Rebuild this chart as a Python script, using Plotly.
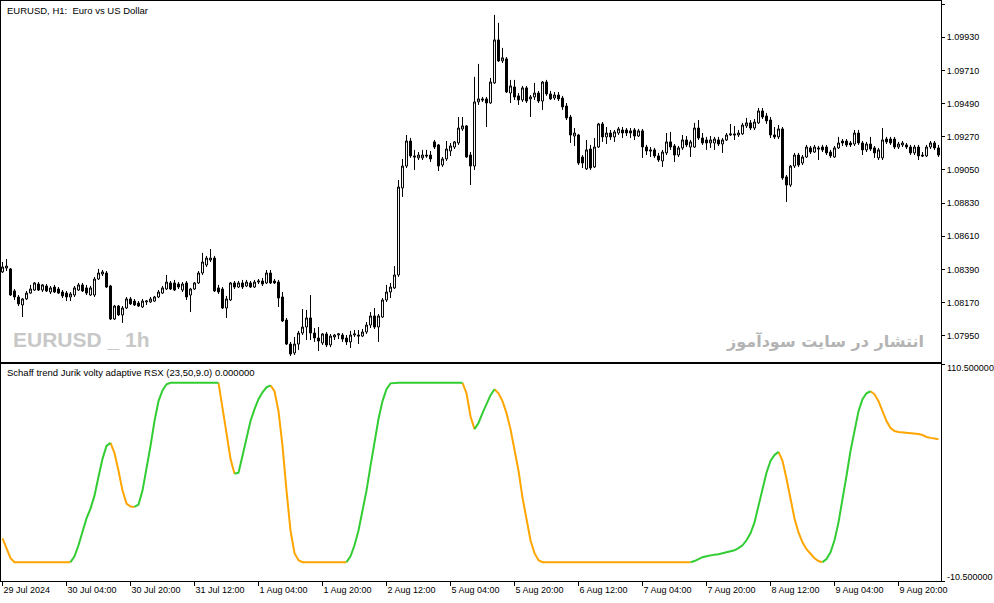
import plotly.graph_objects as go

# ---------------- data ----------------
bar_index = list(range(235))

opens = [
    1.08374, 1.08400, 1.08394, 1.08248, 1.08208, 1.08155, 1.08195, 1.08234, 1.08254, 1.08294,
    1.08254, 1.08281, 1.08241, 1.08274, 1.08261, 1.08241, 1.08234, 1.08208, 1.08221, 1.08254,
    1.08288, 1.08268, 1.08221, 1.08221, 1.08327, 1.08360, 1.08367, 1.08281, 1.08062, 1.08148,
    1.08089, 1.08135, 1.08195, 1.08181, 1.08168, 1.08142, 1.08175, 1.08175, 1.08181, 1.08208,
    1.08234, 1.08261, 1.08301, 1.08301, 1.08294, 1.08254, 1.08301, 1.08221, 1.08261, 1.08301,
    1.08367, 1.08420, 1.08453, 1.08466, 1.08268, 1.08261, 1.08135, 1.08188, 1.08301, 1.08274,
    1.08301, 1.08281, 1.08301, 1.08274, 1.08307, 1.08314, 1.08301, 1.08367, 1.08314, 1.08307,
    1.08208, 1.08055, 1.07896, 1.07837, 1.07896, 1.07969, 1.08009, 1.08069, 1.07969, 1.07936,
    1.07903, 1.07963, 1.07890, 1.07943, 1.07956, 1.07956, 1.07936, 1.07910, 1.07956, 1.07956,
    1.07949, 1.07976, 1.08022, 1.08082, 1.08009, 1.08075, 1.08188, 1.08241, 1.08268, 1.08354,
    1.08931, 1.09076, 1.09242, 1.09143, 1.09130, 1.09130, 1.09149, 1.09149, 1.09236, 1.09216,
    1.09083, 1.09123, 1.09176, 1.09202, 1.09229, 1.09322, 1.09342, 1.09149, 1.09076, 1.09501,
    1.09521, 1.09521, 1.09494, 1.09627, 1.09912, 1.09773, 1.09786, 1.09560, 1.09600, 1.09541,
    1.09514, 1.09594, 1.09521, 1.09534, 1.09560, 1.09507, 1.09633, 1.09554, 1.09527, 1.09547,
    1.09527, 1.09474, 1.09401, 1.09275, 1.09282, 1.09136, 1.09057, 1.09189, 1.09070, 1.09202,
    1.09355, 1.09269, 1.09295, 1.09269, 1.09295, 1.09315, 1.09315, 1.09309, 1.09315, 1.09275,
    1.09309, 1.09202, 1.09183, 1.09183, 1.09143, 1.09110, 1.09163, 1.09236, 1.09209, 1.09149,
    1.09196, 1.09249, 1.09202, 1.09202, 1.09328, 1.09262, 1.09249, 1.09229, 1.09229, 1.09249,
    1.09222, 1.09249, 1.09282, 1.09289, 1.09282, 1.09289, 1.09342, 1.09362, 1.09328, 1.09362,
    1.09441, 1.09408, 1.09381, 1.09282, 1.09269, 1.09322, 1.09004, 1.08950, 1.09076, 1.09149,
    1.09096, 1.09136, 1.09196, 1.09169, 1.09196, 1.09202, 1.09202, 1.09169, 1.09136, 1.09196,
    1.09242, 1.09242, 1.09229, 1.09222, 1.09295, 1.09229, 1.09183, 1.09222, 1.09196, 1.09130,
    1.09130, 1.09255, 1.09255, 1.09255, 1.09202, 1.09216, 1.09216, 1.09202, 1.09163, 1.09202,
    1.09149, 1.09143, 1.09202, 1.09229, 1.09196,
]

highs = [
    1.08440, 1.08460, 1.08400, 1.08261, 1.08221, 1.08201, 1.08248, 1.08288, 1.08307, 1.08307,
    1.08294, 1.08294, 1.08281, 1.08288, 1.08274, 1.08254, 1.08248, 1.08241, 1.08281, 1.08301,
    1.08301, 1.08288, 1.08281, 1.08341, 1.08394, 1.08387, 1.08380, 1.08288, 1.08155, 1.08155,
    1.08148, 1.08208, 1.08208, 1.08195, 1.08181, 1.08195, 1.08188, 1.08208, 1.08215, 1.08254,
    1.08281, 1.08354, 1.08314, 1.08321, 1.08307, 1.08307, 1.08314, 1.08268, 1.08307, 1.08380,
    1.08500, 1.08480, 1.08526, 1.08480, 1.08288, 1.08274, 1.08215, 1.08307, 1.08314, 1.08314,
    1.08321, 1.08321, 1.08314, 1.08321, 1.08327, 1.08334, 1.08387, 1.08387, 1.08327, 1.08321,
    1.08241, 1.08069, 1.07910, 1.07943, 1.07983, 1.08128, 1.08122, 1.08221, 1.08002, 1.08009,
    1.07969, 1.07976, 1.07963, 1.07963, 1.07969, 1.07969, 1.07956, 1.07983, 1.07989, 1.07989,
    1.07996, 1.08042, 1.08108, 1.08135, 1.08095, 1.08201, 1.08288, 1.08301, 1.08413, 1.08984,
    1.09123, 1.09282, 1.09262, 1.09183, 1.09169, 1.09183, 1.09183, 1.09176, 1.09249, 1.09222,
    1.09136, 1.09242, 1.09229, 1.09242, 1.09401, 1.09401, 1.09348, 1.09169, 1.09667, 1.09753,
    1.09534, 1.09534, 1.09660, 1.10078, 1.10025, 1.09859, 1.09799, 1.09647, 1.09647, 1.09560,
    1.09607, 1.09607, 1.09547, 1.09627, 1.09574, 1.09640, 1.09647, 1.09574, 1.09567, 1.09567,
    1.09541, 1.09494, 1.09415, 1.09328, 1.09289, 1.09149, 1.09249, 1.09216, 1.09262, 1.09362,
    1.09368, 1.09335, 1.09315, 1.09315, 1.09335, 1.09335, 1.09328, 1.09328, 1.09328, 1.09322,
    1.09322, 1.09216, 1.09202, 1.09196, 1.09163, 1.09183, 1.09295, 1.09302, 1.09222, 1.09209,
    1.09282, 1.09275, 1.09249, 1.09362, 1.09381, 1.09295, 1.09269, 1.09275, 1.09269, 1.09269,
    1.09262, 1.09295, 1.09355, 1.09342, 1.09315, 1.09362, 1.09395, 1.09381, 1.09388, 1.09461,
    1.09461, 1.09428, 1.09401, 1.09335, 1.09348, 1.09335, 1.09017, 1.09083, 1.09163, 1.09163,
    1.09149, 1.09216, 1.09209, 1.09216, 1.09209, 1.09216, 1.09216, 1.09183, 1.09209, 1.09269,
    1.09255, 1.09255, 1.09242, 1.09315, 1.09315, 1.09242, 1.09236, 1.09269, 1.09209, 1.09196,
    1.09328, 1.09269, 1.09269, 1.09269, 1.09236, 1.09242, 1.09229, 1.09216, 1.09216, 1.09216,
    1.09169, 1.09216, 1.09242, 1.09242, 1.09216,
]

lows = [
    1.08367, 1.08380, 1.08215, 1.08188, 1.08148, 1.08075, 1.08188, 1.08228, 1.08248, 1.08248,
    1.08241, 1.08241, 1.08228, 1.08234, 1.08228, 1.08201, 1.08181, 1.08181, 1.08208, 1.08248,
    1.08241, 1.08221, 1.08215, 1.08208, 1.08321, 1.08347, 1.08268, 1.08055, 1.08055, 1.08082,
    1.08036, 1.08128, 1.08155, 1.08148, 1.08142, 1.08135, 1.08155, 1.08168, 1.08175, 1.08201,
    1.08228, 1.08254, 1.08254, 1.08248, 1.08261, 1.08241, 1.08188, 1.08108, 1.08254, 1.08294,
    1.08354, 1.08407, 1.08440, 1.08241, 1.08228, 1.08128, 1.08069, 1.08181, 1.08261, 1.08268,
    1.08261, 1.08274, 1.08268, 1.08268, 1.08294, 1.08281, 1.08294, 1.08294, 1.08294, 1.08142,
    1.08042, 1.07890, 1.07817, 1.07823, 1.07857, 1.07956, 1.07923, 1.07923, 1.07910, 1.07850,
    1.07890, 1.07876, 1.07876, 1.07923, 1.07929, 1.07910, 1.07890, 1.07870, 1.07943, 1.07896,
    1.07943, 1.07963, 1.08002, 1.07996, 1.07910, 1.08069, 1.08175, 1.08201, 1.08261, 1.08341,
    1.08871, 1.09063, 1.09130, 1.09050, 1.09116, 1.09116, 1.09130, 1.09103, 1.09189, 1.09043,
    1.09070, 1.09110, 1.09143, 1.09189, 1.09216, 1.09309, 1.09130, 1.08950, 1.09050, 1.09481,
    1.09501, 1.09335, 1.09488, 1.09620, 1.09766, 1.09759, 1.09560, 1.09494, 1.09514, 1.09481,
    1.09501, 1.09494, 1.09401, 1.09514, 1.09494, 1.09448, 1.09541, 1.09514, 1.09514, 1.09507,
    1.09448, 1.09381, 1.09229, 1.09209, 1.09083, 1.09063, 1.09050, 1.09050, 1.09063, 1.09196,
    1.09236, 1.09222, 1.09249, 1.09236, 1.09282, 1.09262, 1.09275, 1.09262, 1.09249, 1.09269,
    1.09130, 1.09149, 1.09136, 1.09130, 1.09103, 1.09070, 1.09149, 1.09183, 1.09103, 1.09136,
    1.09183, 1.09202, 1.09136, 1.09196, 1.09249, 1.09216, 1.09183, 1.09196, 1.09183, 1.09209,
    1.09163, 1.09242, 1.09275, 1.09249, 1.09269, 1.09282, 1.09328, 1.09315, 1.09315, 1.09355,
    1.09388, 1.09355, 1.09262, 1.09255, 1.09255, 1.08984, 1.08838, 1.08937, 1.09063, 1.09070,
    1.09083, 1.09130, 1.09156, 1.09163, 1.09116, 1.09169, 1.09149, 1.09130, 1.09130, 1.09189,
    1.09209, 1.09202, 1.09202, 1.09209, 1.09216, 1.09149, 1.09169, 1.09176, 1.09130, 1.09116,
    1.09116, 1.09222, 1.09216, 1.09189, 1.09189, 1.09202, 1.09189, 1.09149, 1.09149, 1.09116,
    1.09136, 1.09136, 1.09189, 1.09183, 1.09136,
]

closes = [
    1.08407, 1.08413, 1.08221, 1.08208, 1.08162, 1.08195, 1.08234, 1.08261, 1.08301, 1.08254,
    1.08288, 1.08248, 1.08268, 1.08241, 1.08234, 1.08215, 1.08208, 1.08228, 1.08268, 1.08288,
    1.08248, 1.08234, 1.08268, 1.08327, 1.08367, 1.08374, 1.08274, 1.08062, 1.08148, 1.08089,
    1.08135, 1.08195, 1.08162, 1.08155, 1.08148, 1.08181, 1.08181, 1.08195, 1.08208, 1.08241,
    1.08268, 1.08307, 1.08261, 1.08254, 1.08274, 1.08294, 1.08208, 1.08261, 1.08301, 1.08367,
    1.08440, 1.08466, 1.08466, 1.08248, 1.08241, 1.08135, 1.08195, 1.08301, 1.08274, 1.08301,
    1.08274, 1.08307, 1.08274, 1.08307, 1.08314, 1.08294, 1.08367, 1.08301, 1.08301, 1.08201,
    1.08049, 1.07896, 1.07830, 1.07896, 1.07969, 1.08009, 1.08069, 1.07969, 1.07936, 1.07916,
    1.07963, 1.07890, 1.07949, 1.07956, 1.07963, 1.07929, 1.07910, 1.07956, 1.07963, 1.07949,
    1.07976, 1.08022, 1.08082, 1.08009, 1.08082, 1.08188, 1.08241, 1.08274, 1.08354, 1.08937,
    1.09076, 1.09242, 1.09143, 1.09136, 1.09149, 1.09149, 1.09143, 1.09123, 1.09202, 1.09076,
    1.09123, 1.09189, 1.09209, 1.09236, 1.09328, 1.09342, 1.09136, 1.09076, 1.09501, 1.09521,
    1.09514, 1.09494, 1.09633, 1.09912, 1.09773, 1.09793, 1.09567, 1.09607, 1.09534, 1.09514,
    1.09594, 1.09507, 1.09534, 1.09560, 1.09507, 1.09633, 1.09554, 1.09521, 1.09547, 1.09521,
    1.09468, 1.09395, 1.09282, 1.09295, 1.09096, 1.09096, 1.09183, 1.09063, 1.09202, 1.09355,
    1.09269, 1.09295, 1.09269, 1.09302, 1.09322, 1.09295, 1.09295, 1.09295, 1.09275, 1.09309,
    1.09202, 1.09176, 1.09176, 1.09143, 1.09116, 1.09169, 1.09236, 1.09202, 1.09149, 1.09196,
    1.09249, 1.09216, 1.09236, 1.09328, 1.09262, 1.09229, 1.09229, 1.09249, 1.09255, 1.09222,
    1.09249, 1.09282, 1.09289, 1.09282, 1.09295, 1.09348, 1.09362, 1.09328, 1.09368, 1.09441,
    1.09401, 1.09375, 1.09282, 1.09269, 1.09322, 1.08997, 1.08950, 1.09076, 1.09149, 1.09083,
    1.09136, 1.09202, 1.09169, 1.09202, 1.09189, 1.09183, 1.09163, 1.09143, 1.09196, 1.09229,
    1.09229, 1.09216, 1.09216, 1.09295, 1.09229, 1.09183, 1.09222, 1.09189, 1.09163, 1.09183,
    1.09249, 1.09236, 1.09229, 1.09202, 1.09222, 1.09229, 1.09202, 1.09163, 1.09202, 1.09143,
    1.09143, 1.09202, 1.09229, 1.09196, 1.09149,
]

stc_values = [
    13.3, 7.8, 2.2, 0, 0, 0, 0, 0, 0, 0,
    0, 0, 0, 0, 0, 0, 0, 0, 3.3, 9.4,
    17.7, 24.4, 29.9, 37.1, 47.6, 57.6, 64.8, 66.5, 60.9, 51.0,
    39.9, 32.7, 31.0, 30.8, 32.1, 39.9, 52.0, 64.8, 78.7, 89.8,
    95.8, 99.2, 100, 100, 100, 100, 100, 100, 100, 100,
    100, 100, 100, 100, 100, 87.0, 72.0, 57.6, 49.3, 49.9,
    59.3, 69.3, 78.7, 85.3, 90.9, 94.7, 97.5, 98.6, 95.3, 84.2,
    64.8, 39.9, 17.7, 5.0, 1.1, 0, 0, 0, 0, 0,
    0, 0, 0, 0, 0, 0, 0, 3.3, 9.4, 17.7,
    28.8, 39.9, 53.7, 67.6, 79.8, 89.8, 96.4, 99.7, 100, 100,
    100, 100, 100, 100, 100, 100, 100, 100, 100, 100,
    100, 100, 100, 100, 100, 100, 94.2, 81.4, 74.2, 77.6,
    83.1, 88.6, 93.1, 96.4, 94.2, 89.8, 83.1, 74.2, 63.2, 51.0,
    36.0, 23.3, 12.2, 5.0, 1.1, 0, 0, 0, 0, 0,
    0, 0, 0, 0, 0, 0, 0, 0, 0, 0,
    0, 0, 0, 0, 0, 0, 0, 0, 0, 0,
    0, 0, 0, 0, 0, 0, 0, 0, 0, 0,
    0, 0, 0, 0.6, 1.7, 2.8, 3.3, 3.9, 4.2, 4.4,
    5.0, 5.5, 6.1, 6.6, 7.8, 9.4, 12.2, 16.1, 22.2, 31.6,
    41.0, 49.9, 56.5, 59.8, 61.5, 56.5, 46.5, 34.3, 24.4, 16.6,
    11.1, 7.2, 4.4, 2.2, 0.6, 0, 1.7, 5.5, 12.2, 22.2,
    34.3, 48.2, 62.0, 74.2, 84.2, 90.9, 94.2, 95.3, 93.6, 89.8,
    84.2, 78.7, 74.8, 73.1, 72.6, 72.4, 72.3, 72.0, 71.9, 71.5,
    70.9, 69.8, 69.3, 68.7, 68.5,
]

time_label_bars = [0, 16, 32, 48, 64, 80, 96, 112, 128, 144, 160, 176, 192, 208, 224]
time_labels = ["29 Jul 2024", "30 Jul 04:00", "30 Jul 20:00", "31 Jul 12:00", "1 Aug 04:00",
               "1 Aug 20:00", "2 Aug 12:00", "5 Aug 04:00", "5 Aug 20:00", "6 Aug 12:00",
               "7 Aug 04:00", "7 Aug 20:00", "8 Aug 12:00", "9 Aug 04:00", "9 Aug 20:00"]

price_ticks = [1.10150, 1.09930, 1.09710, 1.09490, 1.09270, 1.09050,
               1.08830, 1.08610, 1.08390, 1.08170, 1.07950]
stc_ticks = [110.5, -10.5]
stc_tick_labels = ["110.500000", "-10.500000"]

title_text = "EURUSD, H1:\u00a0 Euro vs US Dollar"
indicator_text = "Schaff trend Jurik volty adaptive RSX (23,50,9.0) 0.000000"
watermark_left = "EURUSD _ 1h"
watermark_right = "انتشار در سایت سودآموز"

# ---------------- figure ----------------
W, H = 994, 603
GREEN = "#32CD32"
ORANGE = "#FFA500"
FONT = "Liberation Sans"

fig = go.Figure()

fig.add_trace(go.Candlestick(
    x=bar_index, open=opens, high=highs, low=lows, close=closes,
    increasing=dict(line=dict(color="black", width=1), fillcolor="white"),
    decreasing=dict(line=dict(color="black", width=1), fillcolor="black"),
    whiskerwidth=0, xaxis="x", yaxis="y", hoverinfo="skip", showlegend=False,
))

# trend direction of the indicator line (rising -> green, falling -> orange)
direction = []
prev = -1
for k, v in enumerate(stc_values):
    if k > 0:
        if v > stc_values[k - 1]:
            prev = 1
        elif v < stc_values[k - 1]:
            prev = -1
    direction.append(prev)

green_y, orange_y = [], []
n = len(stc_values)
for k in range(n):
    nxt = direction[k + 1] if k + 1 < n else direction[k]
    green_y.append(stc_values[k] if (direction[k] == 1 or nxt == 1) else None)
    orange_y.append(stc_values[k] if (direction[k] == -1 or nxt == -1) else None)

fig.add_trace(go.Scatter(x=bar_index, y=orange_y, mode="lines",
                         line=dict(color=ORANGE, width=2), xaxis="x2", yaxis="y2",
                         connectgaps=False, hoverinfo="skip", showlegend=False))
fig.add_trace(go.Scatter(x=bar_index, y=green_y, mode="lines",
                         line=dict(color=GREEN, width=2), xaxis="x2", yaxis="y2",
                         connectgaps=False, hoverinfo="skip", showlegend=False))

def px_x(p):
    return p / W

def px_y(p):
    return 1 - p / H

x_dom = [px_x(1), px_x(941)]
x_rng = [-0.375, 234.625]
top_rng = [1.07777, 1.10170]

axis_common = dict(showgrid=False, zeroline=False, showline=True, mirror=True,
                   linecolor="black", linewidth=1, automargin=False)
TICKFONT = dict(family=FONT, size=9, color="black")

fig.update_layout(
    width=W, height=H,
    margin=dict(l=0, r=0, t=0, b=0),
    paper_bgcolor="white", plot_bgcolor="white",
    showlegend=False,
    boxgap=0.3, boxgroupgap=0.3,
    xaxis=dict(domain=x_dom, range=x_rng, anchor="y", showticklabels=False,
               ticks="", rangeslider=dict(visible=False), **axis_common),
    yaxis=dict(domain=[px_y(362), px_y(1)], range=top_rng, side="right", anchor="x",
               tickvals=price_ticks, ticktext=[f"{p:.5f}" for p in price_ticks],
               ticks="outside", ticklen=3, tickcolor="black",
               tickfont=TICKFONT, **axis_common),
    xaxis2=dict(domain=x_dom, range=x_rng, anchor="y2",
                tickvals=time_label_bars, ticktext=time_labels,
                ticks="outside", ticklen=4, tickcolor="black",
                ticklabelposition="outside right",
                tickfont=TICKFONT, **axis_common),
    yaxis2=dict(domain=[px_y(581), px_y(364)], range=[-10.5, 110.5], side="right", anchor="x2",
                tickvals=stc_ticks, showticklabels=False,
                ticks="outside", ticklen=3, tickcolor="black", **axis_common),
)

# indicator scale labels sit just inside the pane, as in the terminal
for val, txt, ypx in zip(stc_ticks, stc_tick_labels, [368, 577]):
    fig.add_annotation(text=txt, xref="paper", yref="paper", x=px_x(945), y=px_y(ypx),
                       xanchor="left", yanchor="middle", showarrow=False, font=TICKFONT)

fig.add_annotation(text=title_text, xref="paper", yref="paper", x=px_x(5), y=px_y(10),
                   xanchor="left", yanchor="middle", showarrow=False,
                   font=dict(family=FONT, size=9.5, color="black"))
fig.add_annotation(text=indicator_text, xref="paper", yref="paper", x=px_x(5), y=px_y(372),
                   xanchor="left", yanchor="middle", showarrow=False,
                   font=dict(family=FONT, size=9.5, color="black"))
fig.add_annotation(text="<b>" + watermark_left + "</b>", xref="paper", yref="paper",
                   x=px_x(11), y=px_y(339), xanchor="left", yanchor="middle", showarrow=False,
                   font=dict(family=FONT, size=21, color="#C8C8C8"))
fig.add_annotation(text="<b>" + watermark_right + "</b>", xref="paper", yref="paper",
                   x=px_x(926), y=px_y(341), xanchor="right", yanchor="middle", showarrow=False,
                   font=dict(family="DejaVu Sans", size=16, color="#B4B4B4"))

fig.write_html("out.html",
               config={"displayModeBar": False, "staticPlot": True},
               post_script="document.body.style.margin='0';document.body.style.padding='0';"
                           "document.body.style.overflow='hidden';")
